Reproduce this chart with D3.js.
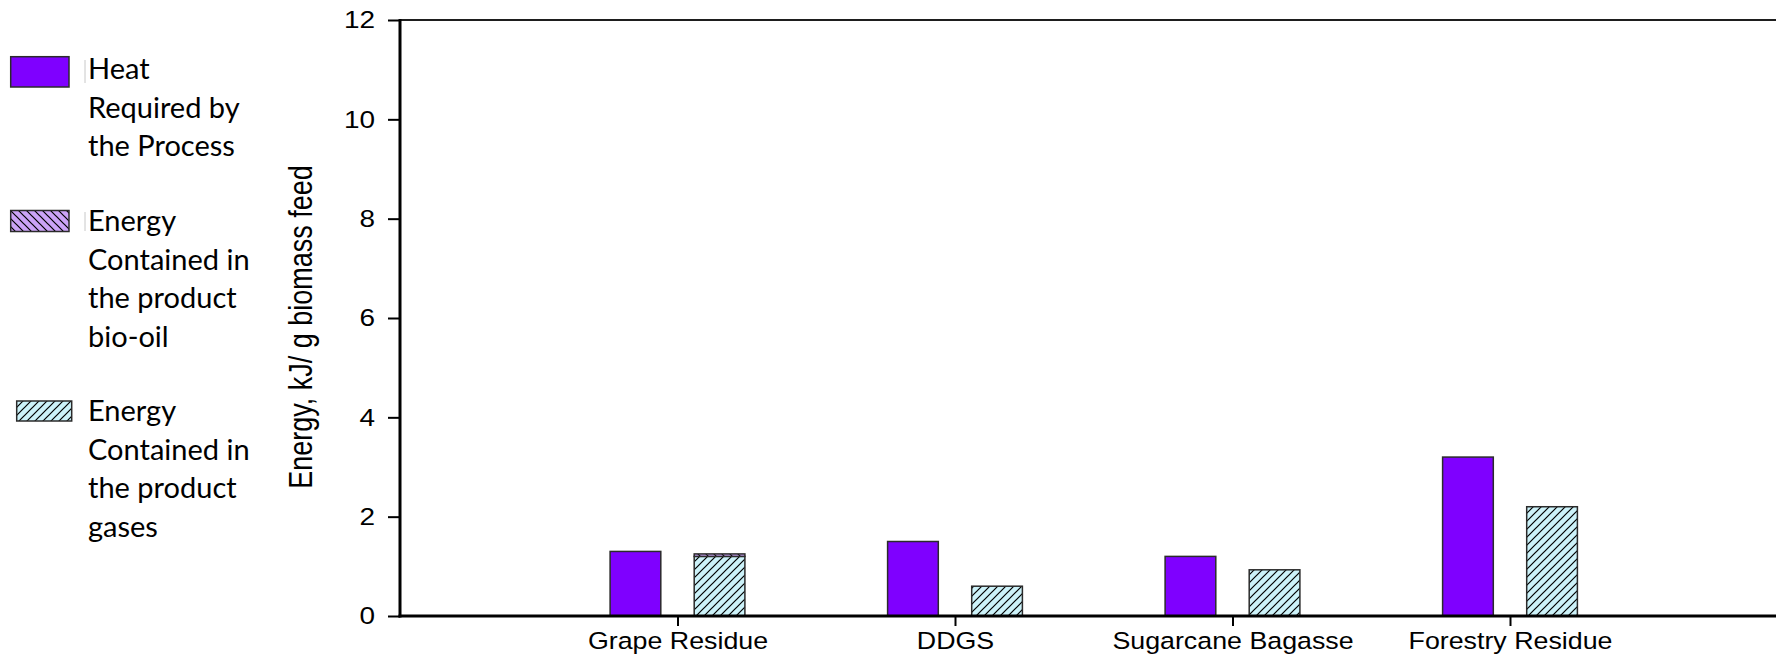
<!DOCTYPE html>
<html>
<head>
<meta charset="utf-8">
<script src="https://cdn.jsdelivr.net/npm/d3@7"></script>
<style>
  html, body { margin: 0; padding: 0; background: #fff; }
  svg { display: block; }
</style>
</head>
<body>
<svg id="chart" width="1776" height="655"></svg>
<script>
// Energy balance per biomass feedstock
const categories = ["Grape Residue", "DDGS", "Sugarcane Bagasse", "Forestry Residue"];
const heatRequired = [1.3, 1.5, 1.2, 3.2];
const gasesEnergy = [1.2, 0.6, 0.93, 2.2];
const bioOilEnergy = [0.05, 0, 0, 0];
const yTicks = [0, 2, 4, 6, 8, 10, 12];
const yTitle = "Energy, kJ/ g biomass feed";
const legendItems = [
  { key: "heat", lines: ["Heat", "Required by", "the Process"] },
  { key: "bio", lines: ["Energy", "Contained in", "the product", "bio-oil"] },
  { key: "gas", lines: ["Energy", "Contained in", "the product", "gases"] }
];

const svg = d3.select("#chart");
const margin = { left: 400, right: 0, top: 20, bottom: 39 };
const width = 1776, height = 655;
const stretch = 1.14; // text is drawn slightly wide

const purple = "#7F00FF";
const lavender = "#CBA3F6";
const cyan = "#CCF2F9";
const edge = "#2b2b2b";

// hatch patterns
const defs = svg.append("defs");
function hatch(id, bg, dir) {
  const p = defs.append("pattern")
    .attr("id", id).attr("patternUnits", "userSpaceOnUse")
    .attr("width", 8).attr("height", 8);
  p.append("rect").attr("width", 8).attr("height", 8).attr("fill", bg);
  const d = dir === "/"
    ? "M-2,2 L2,-2 M0,8 L8,0 M6,10 L10,6"
    : "M-2,6 L2,10 M0,0 L8,8 M6,-2 L10,2";
  p.append("path").attr("d", d).attr("stroke", "#000").attr("stroke-width", 1.2);
}
hatch("hatchGas", cyan, "/");
hatch("hatchBio", lavender, "\\");

const y = d3.scaleLinear().domain([0, 12]).range([height - margin.bottom, margin.top]);
const step = 277.5;
const x = d3.scalePoint().domain(categories)
  .range([margin.left + step, margin.left + step * categories.length]);

const barW = 50.7, barGap = 16.7;

// frame top line
svg.append("line")
  .attr("x1", margin.left).attr("x2", width)
  .attr("y1", y(12)).attr("y2", y(12))
  .attr("stroke", "#1e1e1e").attr("stroke-width", 2);

// bars: heat required
svg.append("g").selectAll("rect").data(categories).join("rect")
  .attr("x", c => x(c) - barGap - barW)
  .attr("y", (c, i) => y(heatRequired[i]))
  .attr("width", barW)
  .attr("height", (c, i) => y(0) - y(heatRequired[i]))
  .attr("fill", purple).attr("stroke", edge).attr("stroke-width", 1.5);

// bars: gases (bottom) + bio-oil (stacked on top)
svg.append("g").selectAll("rect").data(categories).join("rect")
  .attr("x", c => x(c) + barGap)
  .attr("y", (c, i) => y(gasesEnergy[i]))
  .attr("width", barW)
  .attr("height", (c, i) => y(0) - y(gasesEnergy[i]))
  .attr("fill", "url(#hatchGas)").attr("stroke", edge).attr("stroke-width", 1.5);

svg.append("g").selectAll("rect")
  .data(categories.filter((c, i) => bioOilEnergy[i] > 0)).join("rect")
  .attr("x", c => x(c) + barGap)
  .attr("y", c => { const i = categories.indexOf(c); return y(gasesEnergy[i] + bioOilEnergy[i]); })
  .attr("width", barW)
  .attr("height", c => { const i = categories.indexOf(c); return y(gasesEnergy[i]) - y(gasesEnergy[i] + bioOilEnergy[i]); })
  .attr("fill", "url(#hatchBio)").attr("stroke", edge).attr("stroke-width", 1.5);

// y axis
const yAxis = svg.append("g")
  .attr("transform", `translate(${margin.left},0)`)
  .call(d3.axisLeft(y).tickValues(yTicks).tickSize(12).tickSizeOuter(0).tickPadding(13));
yAxis.select(".domain").remove();
yAxis.selectAll(".tick line").attr("stroke", "#000").attr("stroke-width", 2);
yAxis.selectAll(".tick text")
  .attr("font-family", "'Liberation Sans', Arial, sans-serif")
  .attr("font-size", 24.5).attr("fill", "#000")
  .attr("x", -25 / stretch)
  .attr("transform", `scale(${stretch},1)`);
svg.append("line")
  .attr("x1", margin.left).attr("x2", margin.left)
  .attr("y1", y(12) - 1).attr("y2", y(0) + 1.5)
  .attr("stroke", "#000").attr("stroke-width", 3);

// x axis
const xAxis = svg.append("g")
  .attr("transform", `translate(0,${y(0)})`)
  .call(d3.axisBottom(x).tickSize(10).tickSizeOuter(0).tickPadding(6));
xAxis.select(".domain").remove();
xAxis.selectAll(".tick line").attr("stroke", "#000").attr("stroke-width", 2);
xAxis.selectAll(".tick text")
  .attr("font-family", "'Liberation Sans', Arial, sans-serif")
  .attr("font-size", 23.5).attr("fill", "#000")
  .attr("transform", `scale(${stretch},1)`);
svg.append("line")
  .attr("x1", margin.left - 1.5).attr("x2", width)
  .attr("y1", y(0)).attr("y2", y(0))
  .attr("stroke", "#000").attr("stroke-width", 3);

// y axis title
svg.append("text")
  .attr("transform", `translate(312,327) scale(1.22,1) rotate(-90)`)
  .attr("text-anchor", "middle")
  .attr("font-family", "'Liberation Sans', Arial, sans-serif")
  .attr("font-size", 27).attr("fill", "#000")
  .text(yTitle);

// legend
const legendFont = "Lato, 'Open Sans', sans-serif";
const legendBoxes = {
  heat: { x: 10.7, y: 56.7, w: 58.3, h: 30.3, fill: purple },
  bio: { x: 10.7, y: 210.5, w: 58.3, h: 21, fill: "url(#hatchBio)" },
  gas: { x: 16.7, y: 401, w: 55, h: 20, fill: "url(#hatchGas)" }
};
const legendTop = [79, 231, 421];
const lineH = 38.5;
const legend = svg.append("g");
legendItems.forEach((item, k) => {
  const b = legendBoxes[item.key];
  legend.append("rect")
    .attr("x", b.x).attr("y", b.y).attr("width", b.w).attr("height", b.h)
    .attr("fill", b.fill).attr("stroke", edge).attr("stroke-width", 1.5);
  const t = legend.append("text")
    .attr("font-family", legendFont).attr("font-size", 29).attr("fill", "#000");
  item.lines.forEach((ln, j) => {
    t.append("tspan").attr("x", 88).attr("y", legendTop[k] + j * lineH).text(ln);
  });
});
// faint text-box edges beside the first two legend labels
[[60, 83], [212, 231]].forEach(([a, b]) => {
  legend.append("line").attr("x1", 85).attr("x2", 85).attr("y1", a).attr("y2", b)
    .attr("stroke", "#c8c8c8").attr("stroke-width", 1);
});
</script>
</body>
</html>
